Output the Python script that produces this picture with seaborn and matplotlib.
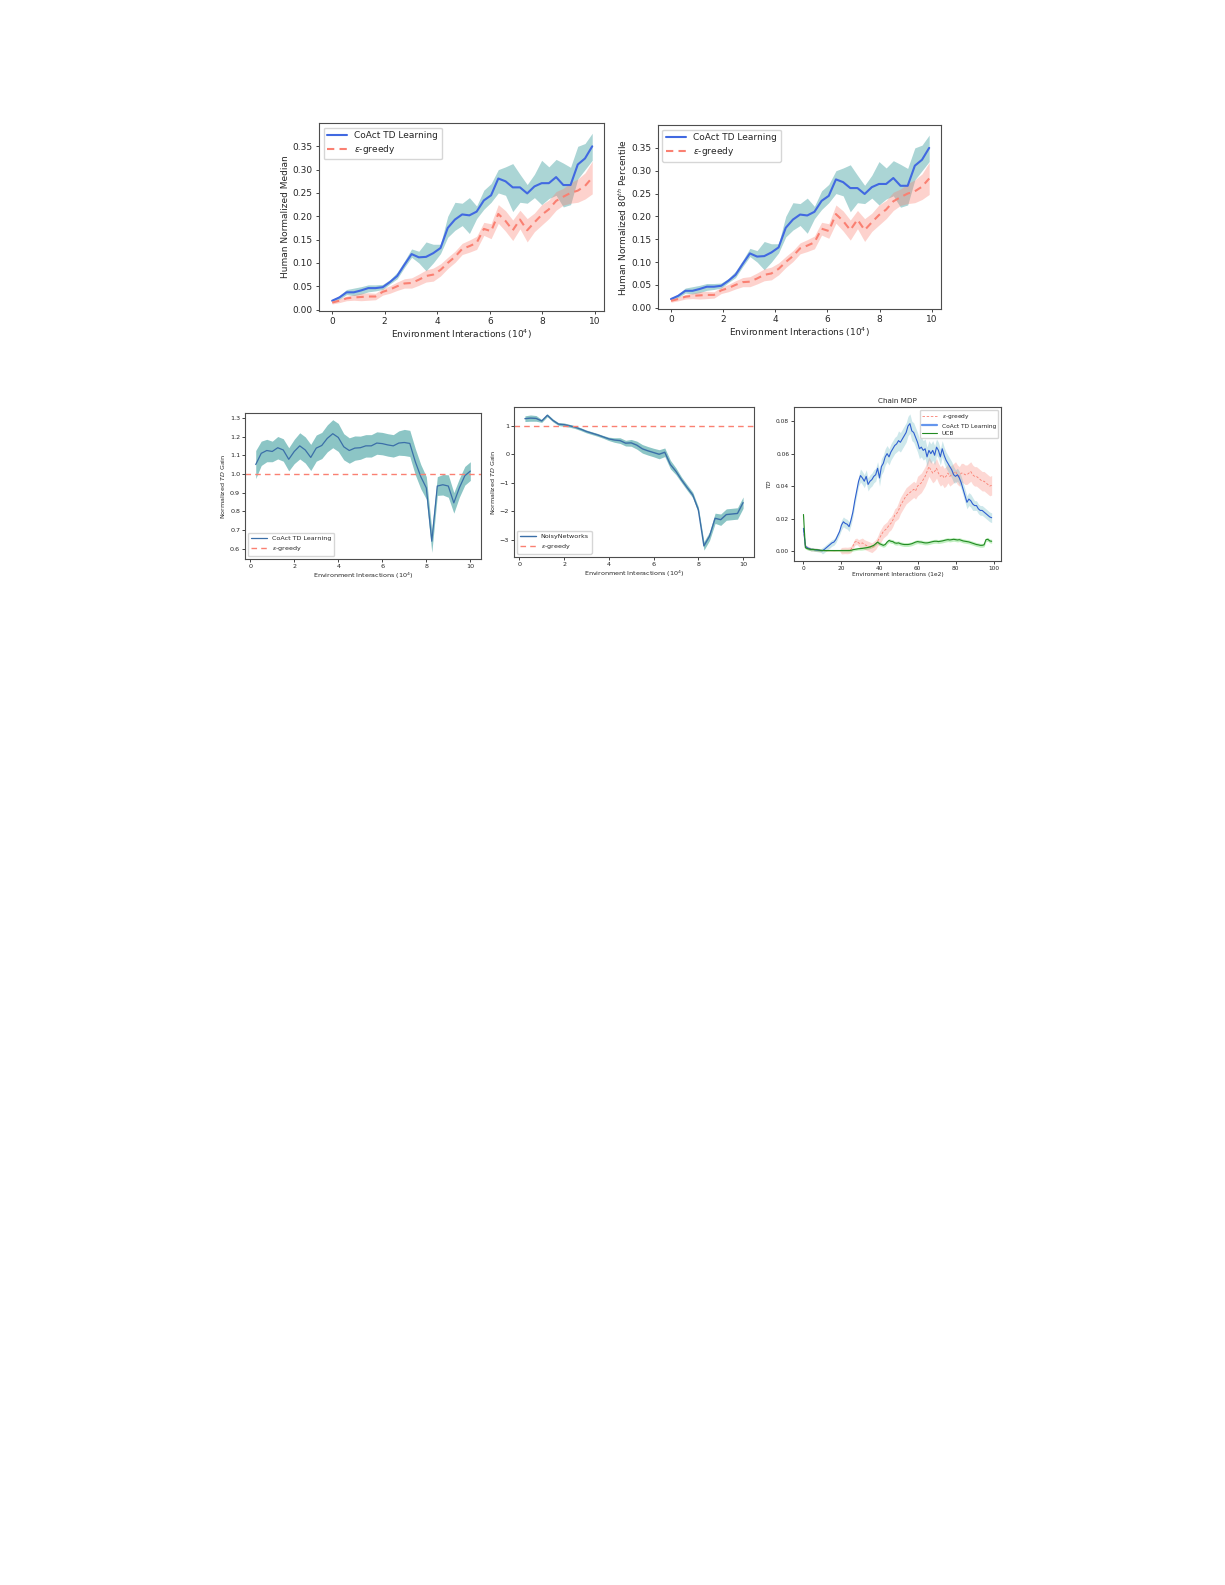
import numpy as np
import pandas as pd
import matplotlib
matplotlib.use("Agg")
import matplotlib.pyplot as plt
import seaborn as sns

sns.set_style("ticks")
plt.rcParams['font.family'] = ['DejaVu Sans']
plt.rcParams['axes.edgecolor'] = '0.3'
plt.rcParams['axes.linewidth'] = 0.8
plt.rcParams['xtick.major.size'] = 2.5
plt.rcParams['ytick.major.size'] = 2.5
plt.rcParams['xtick.major.width'] = 0.6
plt.rcParams['ytick.major.width'] = 0.6
plt.rcParams['text.color'] = '0.15'
plt.rcParams['axes.labelcolor'] = '0.15'

# ---------------- top row: human normalized scores ----------------
x_top = np.round(np.linspace(0, 9.9, 37), 3)
coact_mean = [0.019, 0.026, 0.037, 0.037, 0.041, 0.046, 0.046, 0.048, 0.059, 0.072,
              0.096, 0.119, 0.112, 0.113, 0.121, 0.132, 0.175, 0.193, 0.204, 0.202,
              0.210, 0.234, 0.245, 0.281, 0.275, 0.262, 0.262, 0.249, 0.264, 0.271,
              0.271, 0.284, 0.267, 0.267, 0.311, 0.324, 0.350]
coact_upper = [0.021, 0.030, 0.043, 0.046, 0.049, 0.053, 0.053, 0.054, 0.064, 0.080,
               0.104, 0.130, 0.125, 0.145, 0.140, 0.140, 0.200, 0.230, 0.228, 0.240,
               0.222, 0.256, 0.270, 0.300, 0.306, 0.313, 0.290, 0.268, 0.290, 0.320,
               0.306, 0.322, 0.314, 0.305, 0.350, 0.356, 0.378]
coact_lower = [0.017, 0.022, 0.032, 0.030, 0.033, 0.038, 0.040, 0.043, 0.055, 0.066,
               0.090, 0.112, 0.100, 0.083, 0.100, 0.120, 0.155, 0.170, 0.180, 0.163,
               0.195, 0.215, 0.230, 0.250, 0.245, 0.210, 0.230, 0.228, 0.240, 0.225,
               0.238, 0.245, 0.220, 0.225, 0.280, 0.300, 0.320]
egreedy_mean = [0.015, 0.019, 0.024, 0.026, 0.027, 0.028, 0.028, 0.038, 0.043, 0.050,
                0.056, 0.057, 0.064, 0.072, 0.075, 0.085, 0.100, 0.113, 0.130, 0.136,
                0.143, 0.173, 0.168, 0.205, 0.190, 0.170, 0.193, 0.170, 0.187, 0.203,
                0.215, 0.233, 0.242, 0.250, 0.255, 0.265, 0.283]
egreedy_spread = [0.003, 0.004, 0.005, 0.006, 0.008, 0.008, 0.007, 0.007, 0.008, 0.009,
                  0.010, 0.011, 0.012, 0.013, 0.014, 0.013, 0.012, 0.012, 0.012, 0.013,
                  0.014, 0.014, 0.016, 0.020, 0.022, 0.022, 0.020, 0.025, 0.020, 0.022,
                  0.020, 0.020, 0.018, 0.022, 0.025, 0.028, 0.035]

# ---------------- bottom row: normalized TD gain ----------------
x_gain = np.arange(1, 41) * 0.25
coact_gain = [1.050, 1.110, 1.125, 1.120, 1.140, 1.128, 1.078, 1.120, 1.150, 1.128,
              1.088, 1.138, 1.152, 1.190, 1.215, 1.195, 1.145, 1.125, 1.138, 1.140,
              1.150, 1.150, 1.165, 1.162, 1.155, 1.150, 1.165, 1.168, 1.163, 1.065,
              0.985, 0.925, 0.640, 0.935, 0.942, 0.935, 0.845, 0.925, 0.990, 1.015]
coact_gain_spread = [0.075, 0.065, 0.060, 0.055, 0.060, 0.060, 0.062, 0.065, 0.070, 0.070,
                     0.070, 0.070, 0.070, 0.072, 0.075, 0.075, 0.070, 0.068, 0.065, 0.062,
                     0.060, 0.060, 0.060, 0.060, 0.060, 0.060, 0.065, 0.070, 0.070, 0.070,
                     0.065, 0.060, 0.060, 0.050, 0.055, 0.060, 0.055, 0.050, 0.050, 0.050]
noisy_gain = [1.25, 1.27, 1.26, 1.17, 1.37, 1.19, 1.06, 1.04, 1.00, 0.95,
              0.88, 0.80, 0.74, 0.68, 0.61, 0.54, 0.50, 0.48, 0.39, 0.40,
              0.32, 0.19, 0.12, 0.06, 0.00, 0.07, -0.36, -0.60, -0.90, -1.17,
              -1.43, -1.95, -3.22, -2.88, -2.25, -2.30, -2.12, -2.10, -2.08, -1.70]
noisy_gain_spread = [0.10, 0.11, 0.10, 0.05, 0.05, 0.05, 0.05, 0.06, 0.05, 0.05,
                     0.05, 0.05, 0.05, 0.05, 0.05, 0.06, 0.08, 0.10, 0.10, 0.12,
                     0.14, 0.15, 0.15, 0.15, 0.16, 0.15, 0.15, 0.12, 0.10, 0.10,
                     0.10, 0.10, 0.15, 0.15, 0.18, 0.20, 0.20, 0.20, 0.20, 0.20]

# ---------------- chain MDP ----------------
x_chain = np.arange(100)
chain_egreedy = [0.013, 0.003, 0.002, 0.0015, 0.001, 0.001, 0.0008, 0.0007, 0.0005, 0.0004,
                 0.0003, 0.0004, 0.0002, 0.0003, 0.0004, 0.0003, 0.0002, 0.0003, 0.0004, 0.0003,
                 0.0002, 0.0003, 0.0004, 0.0003, 0.0005, 0.001, 0.003, 0.0055, 0.006, 0.005,
                 0.0045, 0.005, 0.004, 0.0035, 0.003, 0.0025, 0.002, 0.003, 0.004, 0.006,
                 0.008, 0.010, 0.012, 0.013, 0.014, 0.016, 0.017, 0.019, 0.022, 0.023,
                 0.025, 0.028, 0.030, 0.032, 0.034, 0.035, 0.036, 0.037, 0.038, 0.037,
                 0.040, 0.041, 0.042, 0.044, 0.046, 0.049, 0.052, 0.050, 0.048, 0.049,
                 0.051, 0.048, 0.046, 0.047, 0.045, 0.046, 0.048, 0.046, 0.047, 0.048,
                 0.049, 0.047, 0.046, 0.048, 0.048, 0.047, 0.047, 0.048, 0.049, 0.047,
                 0.046, 0.046, 0.045, 0.044, 0.043, 0.043, 0.042, 0.041, 0.040, 0.0405]
chain_coact = [0.014, 0.003, 0.002, 0.0015, 0.001, 0.001, 0.0008, 0.0006, 0.0005, 0.0003,
               0.0002, 0.001, 0.002, 0.003, 0.004, 0.005, 0.0055, 0.007, 0.0095, 0.012,
               0.016, 0.018, 0.017, 0.0165, 0.015, 0.019, 0.024, 0.031, 0.037, 0.043,
               0.0465, 0.045, 0.043, 0.046, 0.041, 0.043, 0.044, 0.046, 0.047, 0.051,
               0.045, 0.052, 0.054, 0.058, 0.060, 0.058, 0.061, 0.063, 0.065, 0.066,
               0.068, 0.067, 0.069, 0.071, 0.073, 0.077, 0.0785, 0.074, 0.073, 0.070,
               0.067, 0.063, 0.064, 0.062, 0.063, 0.058, 0.062, 0.060, 0.062, 0.059,
               0.064, 0.062, 0.058, 0.063, 0.059, 0.056, 0.054, 0.052, 0.050, 0.047,
               0.046, 0.047, 0.045, 0.042, 0.038, 0.034, 0.030, 0.032, 0.031, 0.029,
               0.028, 0.028, 0.026, 0.025, 0.025, 0.024, 0.023, 0.022, 0.021, 0.0205]
chain_ucb = [0.0225, 0.002, 0.0015, 0.0012, 0.001, 0.001, 0.0008, 0.0008, 0.0006, 0.0004,
             0.0004, 0.0003, 0.0003, 0.0003, 0.0003, 0.0003, 0.0003, 0.0003, 0.0003, 0.0003,
             0.0003, 0.0003, 0.0003, 0.0003, 0.0003, 0.0004, 0.0008, 0.001, 0.0012, 0.0014,
             0.0015, 0.0016, 0.0018, 0.002, 0.0022, 0.0025, 0.003, 0.0035, 0.0045, 0.0055,
             0.0045, 0.004, 0.0035, 0.004, 0.0055, 0.0065, 0.006, 0.0058, 0.005, 0.0048,
             0.005, 0.0045, 0.0042, 0.004, 0.004, 0.004, 0.0042, 0.0045, 0.005, 0.0055,
             0.0058, 0.0056, 0.0055, 0.0052, 0.005, 0.005, 0.0052, 0.0055, 0.0058, 0.006,
             0.006, 0.0058, 0.006, 0.0062, 0.0065, 0.0068, 0.007, 0.0068, 0.007, 0.0072,
             0.007, 0.0068, 0.007, 0.0066, 0.0062, 0.006, 0.0058, 0.0056, 0.0052, 0.0048,
             0.0044, 0.004, 0.0038, 0.0035, 0.0035, 0.0038, 0.007, 0.0072, 0.0062, 0.006]
# band half widths, one value per block of 10 interactions
chain_egreedy_spread = [0.001, 0.0005, 0.002, 0.003, 0.004, 0.005, 0.006, 0.006, 0.006, 0.006]
chain_coact_spread = [0.001, 0.002, 0.003, 0.004, 0.005, 0.006, 0.006, 0.005, 0.004, 0.003]
chain_ucb_spread = [0.0008, 0.0005, 0.0008, 0.001, 0.0012, 0.0012, 0.0012, 0.0012, 0.0012, 0.0012]

fig = plt.figure(figsize=(12.25, 15.85), dpi=100)

# ---- top panels ----
top_fs = 6.5
for pos, ylab in [([0.2604, 0.8038, 0.2327, 0.1186], "Human Normalized Median"),
                  ([0.5371, 0.8050, 0.2310, 0.1161], "Human Normalized 80$^{th}$ Percentile")]:
    ax = fig.add_axes(pos)
    ax.fill_between(x_top, coact_lower, coact_upper, color="teal", alpha=0.33, lw=0)
    em = np.array(egreedy_mean)
    es = np.array(egreedy_spread)
    ax.fill_between(x_top, em - es, em + es, color="salmon", alpha=0.35, lw=0)
    sns.lineplot(x=x_top, y=coact_mean, ax=ax, color="royalblue", lw=1.5,
                 label="CoAct TD Learning")
    sns.lineplot(x=x_top, y=egreedy_mean, ax=ax, color="salmon", lw=1.5,
                 linestyle=(0, (3.5, 2.5)), label="$\\epsilon$-greedy")
    ax.set_ylim(-0.003, 0.40)
    ax.set_xlim(-0.5, 10.35)
    ax.set_xticks([0, 2, 4, 6, 8, 10])
    ax.set_yticks(np.arange(0, 0.36, 0.05))
    ax.yaxis.set_major_formatter(matplotlib.ticker.FormatStrFormatter("%.2f"))
    ax.tick_params(labelsize=top_fs, pad=2)
    ax.set_xlabel("Environment Interactions ($10^4$)", fontsize=top_fs, labelpad=1)
    ax.set_ylabel(ylab, fontsize=top_fs, labelpad=2)
    ax.legend(loc="upper left", fontsize=top_fs, handlelength=2.2, borderpad=0.4,
              labelspacing=0.3)

# ---- bottom left: CoAct TD gain ----
bot_fs = 4.6
ax = fig.add_axes([0.2, 0.6473, 0.1927, 0.0921])
cg = np.array(coact_gain)
cs = np.array(coact_gain_spread)
ax.fill_between(x_gain, cg - cs, cg + cs, color="teal", alpha=0.45, lw=0)
sns.lineplot(x=x_gain, y=coact_gain, ax=ax, color="#3b6fa8", lw=0.9,
             label="CoAct TD Learning")
ax.axhline(1.0, color="salmon", lw=1.0, linestyle=(0, (4, 3)), label="$\\epsilon$-greedy")
ax.set_xticks([0, 2, 4, 6, 8, 10])
ax.tick_params(labelsize=bot_fs, pad=1.5, length=2)
ax.set_xlabel("Environment Interactions ($10^4$)", fontsize=bot_fs, labelpad=1)
ax.set_ylabel("Normalized $TD$ Gain", fontsize=bot_fs, labelpad=2)
ax.legend(loc="lower left", fontsize=bot_fs, handlelength=2.5, labelspacing=0.5)

# ---- bottom middle: NoisyNetworks TD gain ----
ax = fig.add_axes([0.4196, 0.6486, 0.1959, 0.0946])
ng = np.array(noisy_gain)
ns = np.array(noisy_gain_spread)
ax.fill_between(x_gain, ng - ns, ng + ns, color="teal", alpha=0.45, lw=0)
sns.lineplot(x=x_gain, y=noisy_gain, ax=ax, color="#3b6fa8", lw=1.0,
             label="NoisyNetworks")
ax.axhline(1.0, color="salmon", lw=1.0, linestyle=(0, (4, 3)), label="$\\epsilon$-greedy")
ax.set_xticks([0, 2, 4, 6, 8, 10])
ax.set_yticks([-3, -2, -1, 0, 1])
ax.tick_params(labelsize=bot_fs, pad=1.5, length=2)
ax.set_xlabel("Environment Interactions ($10^4$)", fontsize=bot_fs, labelpad=1)
ax.set_ylabel("Normalized $TD$ Gain", fontsize=bot_fs, labelpad=2)
ax.legend(loc="lower left", fontsize=bot_fs, handlelength=2.5, labelspacing=0.5)

# ---- bottom right: chain MDP ----
ch_fs = 4.2
ax = fig.add_axes([0.6482, 0.6461, 0.169, 0.0972])
for vals, spread, fill_c in [(chain_egreedy, chain_egreedy_spread, "salmon"),
                             (chain_coact, chain_coact_spread, "#5fb3c0"),
                             (chain_ucb, chain_ucb_spread, "limegreen")]:
    v = np.array(vals)
    s = np.repeat(spread, 10)
    ax.fill_between(x_chain, v - s, v + s, color=fill_c, alpha=0.3, lw=0)
sns.lineplot(x=x_chain, y=chain_egreedy, ax=ax, color="salmon", lw=0.6,
             linestyle=(0, (3, 2)), label="$\\epsilon$-greedy")
sns.lineplot(x=x_chain, y=chain_coact, ax=ax, color="#2f5fd0", lw=0.8,
             label="CoAct TD Learning")
sns.lineplot(x=x_chain, y=chain_ucb, ax=ax, color="#228b22", lw=0.8, label="UCB")
ax.set_xticks([0, 20, 40, 60, 80, 100])
ax.set_yticks([0, 0.02, 0.04, 0.06, 0.08])
ax.yaxis.set_major_formatter(matplotlib.ticker.FormatStrFormatter("%.2f"))
ax.tick_params(labelsize=ch_fs, pad=1.5, length=2)
ax.set_title("Chain MDP", fontsize=5.2, pad=3)
ax.set_xlabel("Environment Interactions (1e2)", fontsize=ch_fs, labelpad=1)
ax.set_ylabel("$TD$", fontsize=ch_fs, labelpad=2)
leg = ax.legend(loc="upper right", fontsize=ch_fs, handlelength=2.5, labelspacing=0.4)
leg.get_lines()[1].set_color("cornflowerblue")
leg.get_lines()[1].set_linewidth(1.6)

fig.savefig("out.png", dpi=100)
